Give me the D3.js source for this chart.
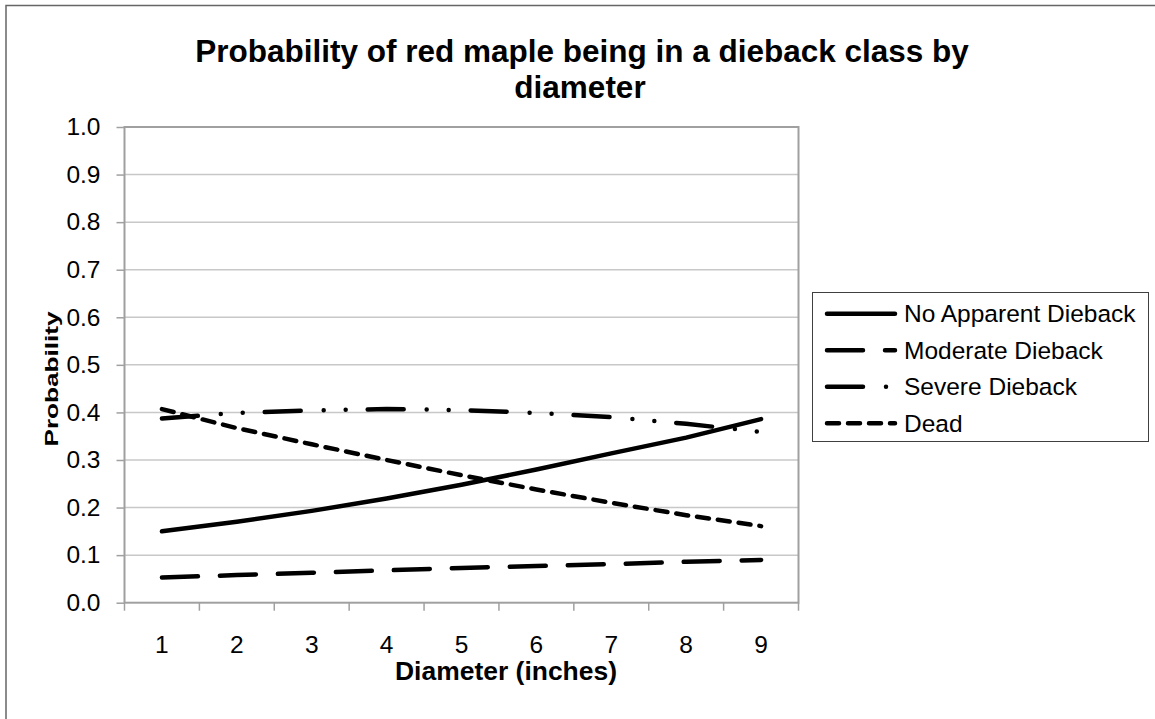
<!DOCTYPE html>
<html>
<head>
<meta charset="utf-8">
<script src="https://cdn.jsdelivr.net/npm/d3@7"></script>
<style>
  body { margin: 0; background: #fff; }
  svg { display: block; font-family: "Liberation Sans", Arial, sans-serif; }
</style>
</head>
<body>
<script>
// data
let diameters = [1, 2, 3, 4, 5, 6, 7, 8, 9];
let noApparent = [0.150, 0.170, 0.193, 0.219, 0.248, 0.280, 0.314, 0.347, 0.386];
let moderate = [0.053, 0.058, 0.063, 0.068, 0.073, 0.077, 0.081, 0.086, 0.090];
let severe = [0.387, 0.399, 0.404, 0.407, 0.405, 0.399, 0.390, 0.376, 0.359];
let dead = [0.407, 0.367, 0.333, 0.300, 0.268, 0.238, 0.210, 0.184, 0.161];
let yTicks = [0, 0.1, 0.2, 0.3, 0.4, 0.5, 0.6, 0.7, 0.8, 0.9, 1.0];
let seriesNames = ['No Apparent Dieback', 'Moderate Dieback', 'Severe Dieback', 'Dead'];

let series = [
    { name: seriesNames[0], values: noApparent, dash: null },
    { name: seriesNames[1], values: moderate, dash: '36 22' },
    { name: seriesNames[2], values: severe, dash: '36 23 0 22 0 22' },
    { name: seriesNames[3], values: dead, dash: '12 9' }
];

let width = 1155, height = 719;
let plot = { left: 124.5, right: 798.5, top: 127, bottom: 602.7 };

let svg = d3.select('body')
    .append('svg')
    .attr('width', width)
    .attr('height', height);

// chart border
svg.append('rect')
    .attr('x', 6)
    .attr('y', 5.5)
    .attr('width', 1300)
    .attr('height', 900)
    .attr('fill', 'none')
    .attr('stroke', '#666')
    .attr('stroke-width', 1.5);

let x = d3.scaleBand()
    .domain(diameters)
    .range([plot.left, plot.right])
    .padding(0);

let y = d3.scaleLinear()
    .domain([0, 1])
    .range([plot.bottom, plot.top]);

// gridlines
svg.append('g')
    .selectAll('line')
    .data(yTicks.slice(1))
    .join('line')
    .attr('x1', plot.left)
    .attr('x2', plot.right)
    .attr('y1', d => y(d))
    .attr('y2', d => y(d))
    .attr('stroke', '#c8c8c8')
    .attr('stroke-width', 1.5);

// plot border
svg.append('rect')
    .attr('x', plot.left)
    .attr('y', plot.top)
    .attr('width', plot.right - plot.left)
    .attr('height', plot.bottom - plot.top)
    .attr('fill', 'none')
    .attr('stroke', '#a0a0a0')
    .attr('stroke-width', 2);

// y axis
let yAxis = d3.axisLeft(y)
    .tickValues(yTicks)
    .tickFormat(d3.format('.1f'))
    .tickSize(8)
    .tickPadding(16);

let gy = svg.append('g')
    .attr('transform', `translate(${plot.left},0)`)
    .call(yAxis);
gy.select('.domain').remove();
gy.selectAll('.tick line').attr('stroke', '#a0a0a0').attr('stroke-width', 1.5);
gy.selectAll('.tick text')
    .attr('font-size', 24.5)
    .attr('font-family', '"Liberation Sans", Arial, sans-serif')
    .attr('fill', '#000');

// x axis: ticks between categories, labels at centers
let xEdges = diameters.map(d => x(d)).concat([plot.right]);
svg.append('g')
    .selectAll('line')
    .data(xEdges)
    .join('line')
    .attr('x1', d => d)
    .attr('x2', d => d)
    .attr('y1', plot.bottom)
    .attr('y2', plot.bottom + 8)
    .attr('stroke', '#a0a0a0')
    .attr('stroke-width', 1.5);

svg.append('g')
    .selectAll('text')
    .data(diameters)
    .join('text')
    .attr('x', d => x(d) + x.bandwidth() / 2)
    .attr('y', 653)
    .attr('text-anchor', 'middle')
    .attr('font-size', 24.5)
    .text(d => d);

// lines
let line = d3.line()
    .x((d, i) => x(diameters[i]) + x.bandwidth() / 2)
    .y(d => y(d));

svg.append('g')
    .selectAll('path')
    .data(series)
    .join('path')
    .attr('d', d => line(d.values))
    .attr('fill', 'none')
    .attr('stroke', '#000')
    .attr('stroke-width', 4.5)
    .attr('stroke-linecap', 'round')
    .attr('stroke-linejoin', 'round')
    .attr('stroke-dasharray', d => d.dash);

// titles
let title = svg.append('text')
    .attr('x', 582)
    .attr('text-anchor', 'middle')
    .attr('font-size', 31.5)
    .attr('font-weight', 'bold');
title.append('tspan').attr('x', 582).attr('y', 61.7).text('Probability of red maple being in a dieback class by');
title.append('tspan').attr('x', 580).attr('y', 98.3).text('diameter');

svg.append('text')
    .attr('x', 506)
    .attr('y', 680)
    .attr('text-anchor', 'middle')
    .attr('font-size', 25)
    .attr('font-weight', 'bold')
    .attr('textLength', 222)
    .attr('lengthAdjust', 'spacingAndGlyphs')
    .text('Diameter (inches)');

svg.append('text')
    .attr('transform', 'translate(58,379) rotate(-90)')
    .attr('text-anchor', 'middle')
    .attr('font-size', 19)
    .attr('font-weight', 'bold')
    .attr('textLength', 135)
    .attr('lengthAdjust', 'spacingAndGlyphs')
    .text('Probability');

// legend
let legend = svg.append('g');
legend.append('rect')
    .attr('x', 812.5)
    .attr('y', 292.5)
    .attr('width', 336)
    .attr('height', 149)
    .attr('fill', '#fff')
    .attr('stroke', '#404040')
    .attr('stroke-width', 1);

let rows = legend.selectAll('g.row')
    .data(series)
    .join('g')
    .attr('class', 'row')
    .attr('transform', (d, i) => `translate(0,${313.7 + i * 36.5})`);

rows.append('line')
    .attr('x1', 827)
    .attr('x2', 895)
    .attr('y1', 0)
    .attr('y2', 0)
    .attr('stroke', '#000')
    .attr('stroke-width', 4.5)
    .attr('stroke-linecap', 'round')
    .attr('stroke-dasharray', d => d.dash);

rows.append('text')
    .attr('x', 904)
    .attr('y', 8.5)
    .attr('font-size', 24.5)
    .text(d => d.name);
</script>
</body>
</html>
